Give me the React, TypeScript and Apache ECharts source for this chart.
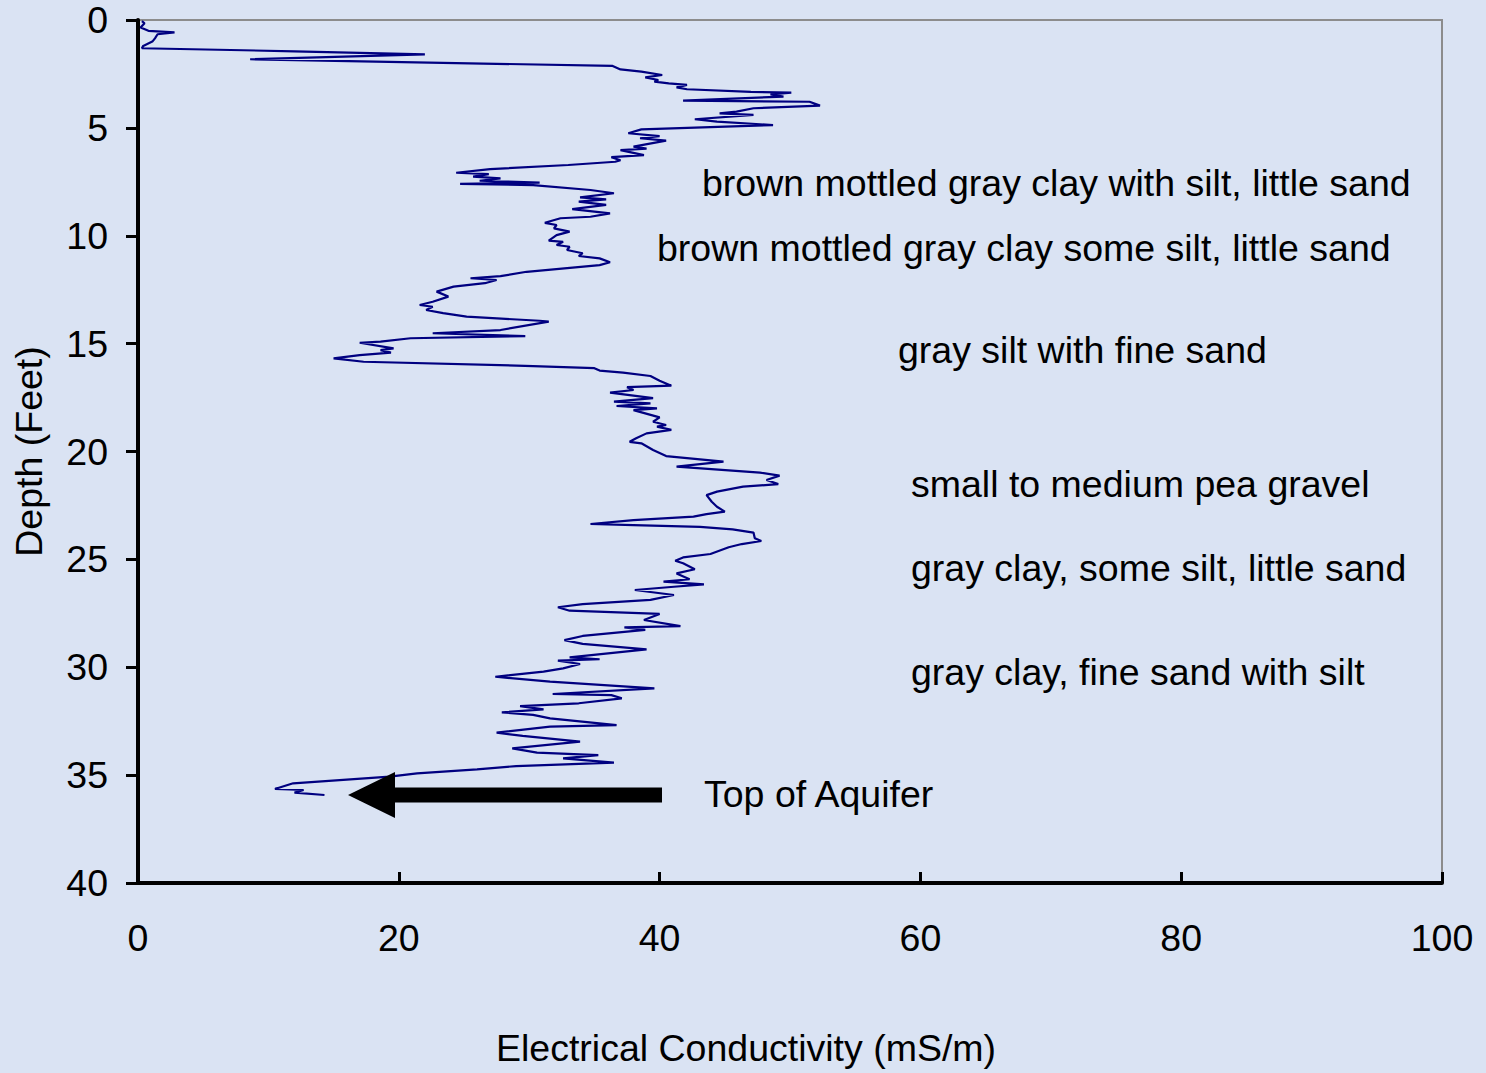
import React, { useEffect, useRef } from "react";
import * as echarts from "echarts";

// Conductivity log: depth below surface (ft) and electrical conductivity (mS/m)
const depthFt = [
  0.05, 0.15, 0.35, 0.5, 0.57, 0.66, 0.85, 1.0, 1.2, 1.31,
  1.45, 1.59, 1.82, 2.13, 2.29, 2.39, 2.55, 2.66, 2.78, 2.86,
  2.94, 3.01, 3.12, 3.21, 3.33, 3.37, 3.45, 3.55, 3.74, 3.79,
  3.97, 4.09, 4.25, 4.33, 4.4, 4.6, 4.71, 4.87, 5.07, 5.25,
  5.38, 5.48, 5.59, 5.87, 5.96, 6.03, 6.26, 6.36, 6.5, 6.57,
  6.72, 6.91, 7.08, 7.14, 7.26, 7.34, 7.45, 7.54, 7.6, 7.65,
  7.88, 8.03, 8.22, 8.31, 8.42, 8.57, 8.77, 8.96, 9.12, 9.19,
  9.4, 9.5, 9.66, 9.81, 9.97, 10.23, 10.28, 10.43, 10.51, 10.66,
  10.81, 10.94, 11.05, 11.23, 11.36, 11.67, 11.87, 11.97, 12.05, 12.2,
  12.36, 12.59, 12.82, 13.06, 13.21, 13.29, 13.44, 13.59, 13.75, 13.94,
  13.98, 14.37, 14.52, 14.65, 14.75, 14.91, 14.96, 15.22, 15.3, 15.42,
  15.53, 15.68, 15.84, 16.04, 16.14, 16.25, 16.34, 16.5, 16.72, 16.95,
  17.02, 17.15, 17.27, 17.53, 17.69, 17.77, 17.89, 18.0, 18.08, 18.42,
  18.62, 18.77, 18.85, 19.0, 19.16, 19.39, 19.55, 19.62, 19.93, 20.21,
  20.47, 20.7, 20.98, 21.12, 21.32, 21.51, 21.63, 21.86, 22.02, 22.33,
  22.56, 22.79, 22.9, 23.02, 23.18, 23.36, 23.41, 23.49, 23.61, 23.76,
  24.02, 24.15, 24.29, 24.44, 24.75, 24.91, 25.06, 25.18, 25.46, 25.65,
  25.92, 26.03, 26.16, 26.27, 26.42, 26.65, 26.88, 27.07, 27.22, 27.38,
  27.53, 27.81, 28.09, 28.15, 28.27, 28.55, 28.74, 28.92, 29.17, 29.54,
  29.63, 29.69, 29.85, 30.05, 30.2, 30.44, 30.67, 30.98, 31.24, 31.29,
  31.44, 31.67, 31.8, 31.95, 32.09, 32.21, 32.37, 32.68, 32.75, 33.03,
  33.18, 33.45, 33.76, 33.96, 34.07, 34.22, 34.42, 34.58, 34.73, 34.92,
  35.07, 35.38, 35.64, 35.69, 35.81, 35.92,
];

const conductivity = [
  0.3, 0.5, 0.2, 0.8, 2.8, 1.5, 1.3, 1.1, 0.4, 0.3,
  12.0, 22.0, 8.6, 36.4, 37.0, 38.6, 40.2, 38.9, 39.9, 39.6,
  40.7, 42.1, 41.3, 42.1, 47.0, 50.1, 48.5, 49.5, 41.8, 51.5,
  52.3, 47.2, 45.9, 44.6, 47.2, 42.7, 44.4, 48.7, 38.6, 37.6,
  40.0, 38.5, 40.5, 38.0, 39.0, 37.0, 38.8, 36.3, 37.0, 36.6,
  33.0, 27.0, 24.4, 26.9, 25.7, 27.8, 26.2, 30.8, 24.7, 30.3,
  34.7, 36.5, 33.9, 35.9, 33.8, 35.9, 33.3, 36.2, 34.7, 32.4,
  31.2, 32.1, 31.9, 33.1, 32.1, 31.5, 32.6, 32.1, 33.1, 32.9,
  34.1, 33.8, 35.4, 36.2, 35.4, 29.8, 27.8, 25.5, 27.5, 26.6,
  24.2, 22.9, 23.8, 22.6, 21.6, 22.6, 22.1, 23.4, 25.2, 30.8,
  31.5, 27.8, 22.6, 29.7, 20.9, 18.6, 17.0, 19.6, 18.6, 19.4,
  17.0, 15.0, 17.3, 30.3, 35.0, 35.4, 37.2, 39.3, 40.0, 40.9,
  37.5, 38.0, 36.2, 39.5, 36.5, 39.3, 36.7, 39.8, 38.0, 40.0,
  39.5, 40.5, 39.8, 40.9, 39.0, 38.2, 37.7, 38.6, 39.5, 40.5,
  44.9, 41.3, 47.7, 49.2, 48.2, 49.1, 46.4, 44.4, 43.6, 44.0,
  44.4, 45.0, 43.6, 42.6, 38.0, 34.7, 38.0, 43.1, 45.6, 47.2,
  47.3, 47.8, 46.3, 45.3, 43.9, 41.8, 41.2, 41.8, 42.7, 41.3,
  42.3, 40.3, 43.4, 41.1, 38.1, 41.1, 39.3, 34.1, 32.2, 33.1,
  40.0, 38.8, 41.6, 37.3, 38.9, 34.1, 32.7, 34.1, 39.0, 33.1,
  35.4, 32.2, 33.9, 32.6, 31.1, 27.4, 31.6, 39.6, 31.8, 36.3,
  37.1, 33.8, 29.3, 31.1, 27.9, 30.3, 31.6, 36.7, 31.6, 27.5,
  29.5, 33.9, 28.7, 30.6, 35.3, 32.6, 36.5, 29.0, 26.0, 21.4,
  19.3, 11.9, 10.5, 12.7, 12.0, 14.3,
];

const xTicks = { min: 0, max: 100, interval: 20 };
const yTicks = { min: 0, max: 40, interval: 5 };

// Soil descriptions placed beside the log
const soilNotes = [
  "brown mottled gray clay with silt, little sand",
  "brown mottled gray clay some silt, little sand",
  "gray silt with fine sand",
  "small to medium pea gravel",
  "gray clay, some silt, little sand",
  "gray clay, fine sand with silt",
];
const noteAnchors: [number, number][] = [
  [702, 183],
  [657, 248],
  [898, 350],
  [911, 484],
  [911, 568],
  [911, 672],
];

const FONT = "'Liberation Sans', Arial, Helvetica, sans-serif";
const FS = 37.5;

export default function App() {
  const ref = useRef<HTMLDivElement>(null);

  useEffect(() => {
    if (!ref.current) return;
    const chart = echarts.init(ref.current, undefined, { renderer: "svg" });

    const seriesData = depthFt.map((d, i) => [conductivity[i], d]);

    const noteGraphics = soilNotes.map((t, i) => ({
      type: "text",
      x: noteAnchors[i][0],
      y: noteAnchors[i][1],
      style: {
        text: t,
        fontSize: FS,
        fontFamily: FONT,
        fill: "#000",
        textAlign: "left",
        textVerticalAlign: "middle",
      },
    }));

    chart.setOption({
      animation: false,
      backgroundColor: "#DAE3F3",
      textStyle: { fontFamily: FONT },
      grid: {
        left: 138,
        right: 44,
        top: 20,
        bottom: 190,
        show: true,
        borderColor: "#8C8C8C",
        borderWidth: 2,
        backgroundColor: "transparent",
        containLabel: false,
      },
      xAxis: {
        type: "value",
        position: "bottom",
        min: xTicks.min,
        max: xTicks.max,
        interval: xTicks.interval,
        axisLine: { show: true, onZero: false, lineStyle: { color: "#000", width: 4 } },
        axisTick: { show: true, inside: true, length: 11, lineStyle: { color: "#000", width: 3 } },
        axisLabel: { fontSize: FS, color: "#000", margin: 36, fontFamily: FONT },
        splitLine: { show: false },
      },
      yAxis: {
        type: "value",
        inverse: true,
        min: yTicks.min,
        max: yTicks.max,
        interval: yTicks.interval,
        name: "Depth (Feet)",
        nameLocation: "middle",
        nameRotate: 90,
        nameGap: 90,
        nameTextStyle: { fontSize: FS, color: "#000", fontFamily: FONT },
        axisLine: { show: true, onZero: false, lineStyle: { color: "#000", width: 4 } },
        axisTick: { show: true, inside: false, length: 12, lineStyle: { color: "#000", width: 3 } },
        axisLabel: { fontSize: FS, color: "#000", margin: 30, fontFamily: FONT },
        splitLine: { show: false },
      },
      series: [
        {
          type: "line",
          data: seriesData,
          showSymbol: false,
          symbol: "none",
          lineStyle: { color: "#000080", width: 2.2 },
          z: 3,
        },
      ],
      graphic: [
        ...noteGraphics,
        {
          type: "text",
          x: 704,
          y: 794,
          style: {
            text: "Top of Aquifer",
            fontSize: FS,
            fontFamily: FONT,
            fill: "#000",
            textAlign: "left",
            textVerticalAlign: "middle",
          },
        },
        {
          type: "polygon",
          shape: {
            points: [
              [348, 795],
              [395, 772],
              [395, 787.5],
              [662, 787.5],
              [662, 802.5],
              [395, 802.5],
              [395, 818],
            ],
          },
          style: { fill: "#000" },
          z: 10,
        },
        {
          type: "text",
          x: 746,
          y: 1048,
          style: {
            text: "Electrical Conductivity (mS/m)",
            fontSize: FS,
            fontFamily: FONT,
            fill: "#000",
            textAlign: "center",
            textVerticalAlign: "middle",
          },
        },
      ],
    });

    return () => chart.dispose();
  }, []);

  return (
    <div
      ref={ref}
      style={{ position: "fixed", left: 0, top: 0, width: 1486, height: 1073 }}
    />
  );
}
